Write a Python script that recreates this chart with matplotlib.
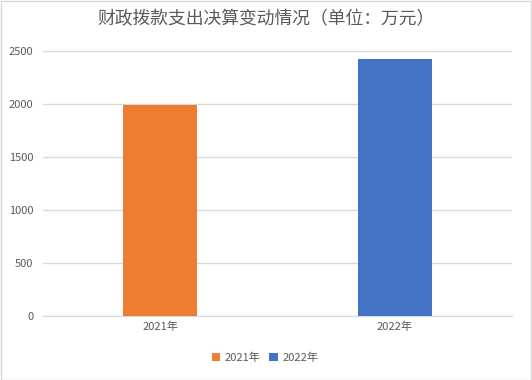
import matplotlib
matplotlib.use("Agg")
import matplotlib.pyplot as plt
from matplotlib.patches import Rectangle

plt.rcParams['font.family'] = ['Noto Sans CJK SC', 'DejaVu Sans']

title = "财政拨款支出决算变动情况（单位：万元）"
categories = ["2021年", "2022年"]
values = [1990, 2425]
colors = ["#ED7D31", "#4472C4"]
yticks = [0, 500, 1000, 1500, 2000, 2500]

W, H = 532, 380
fig = plt.figure(figsize=(W / 100, H / 100), dpi=100)
ax = fig.add_axes([43 / W, 1 - 316 / H, (512 - 43) / W, (316 - 51) / H])

x = range(len(categories))
for i, (v, c, lab) in enumerate(zip(values, colors, categories)):
    ax.bar(i, v, width=0.316, color=c, label=lab, zorder=3)

ax.set_xlim(-0.5, len(categories) - 0.5)
ax.set_ylim(0, 2500)
ax.set_yticks(yticks)
ax.set_xticks(list(x))
ax.set_xticklabels(categories)
ax.yaxis.grid(True, color="#D9D9D9", linewidth=1, zorder=0)
for s in ["top", "right", "left"]:
    ax.spines[s].set_visible(False)
ax.spines["bottom"].set_color("#D9D9D9")
ax.tick_params(axis="both", length=0, labelsize=8, labelcolor="#595959")
ax.tick_params(axis="y", pad=7)
ax.tick_params(axis="x", pad=4)

fig.text(0.5, 1 - 19 / H, title, ha="center", va="center", fontsize=12.8, color="#595959")

leg = fig.legend(loc="center", bbox_to_anchor=(265 / W, 1 - 358 / H), ncol=2,
                 frameon=False, fontsize=8, handlelength=0.75, handleheight=0.75,
                 handletextpad=0.4, columnspacing=0.8)
for t in leg.get_texts():
    t.set_color("#595959")

fig.patches.append(Rectangle((0.5 / W, 0.5 / H), 1 - 1.5 / W, 1 - 1.5 / H,
                             transform=fig.transFigure, fill=False,
                             edgecolor="#D9D9D9", linewidth=1))

fig.savefig("out.png", dpi=100)
